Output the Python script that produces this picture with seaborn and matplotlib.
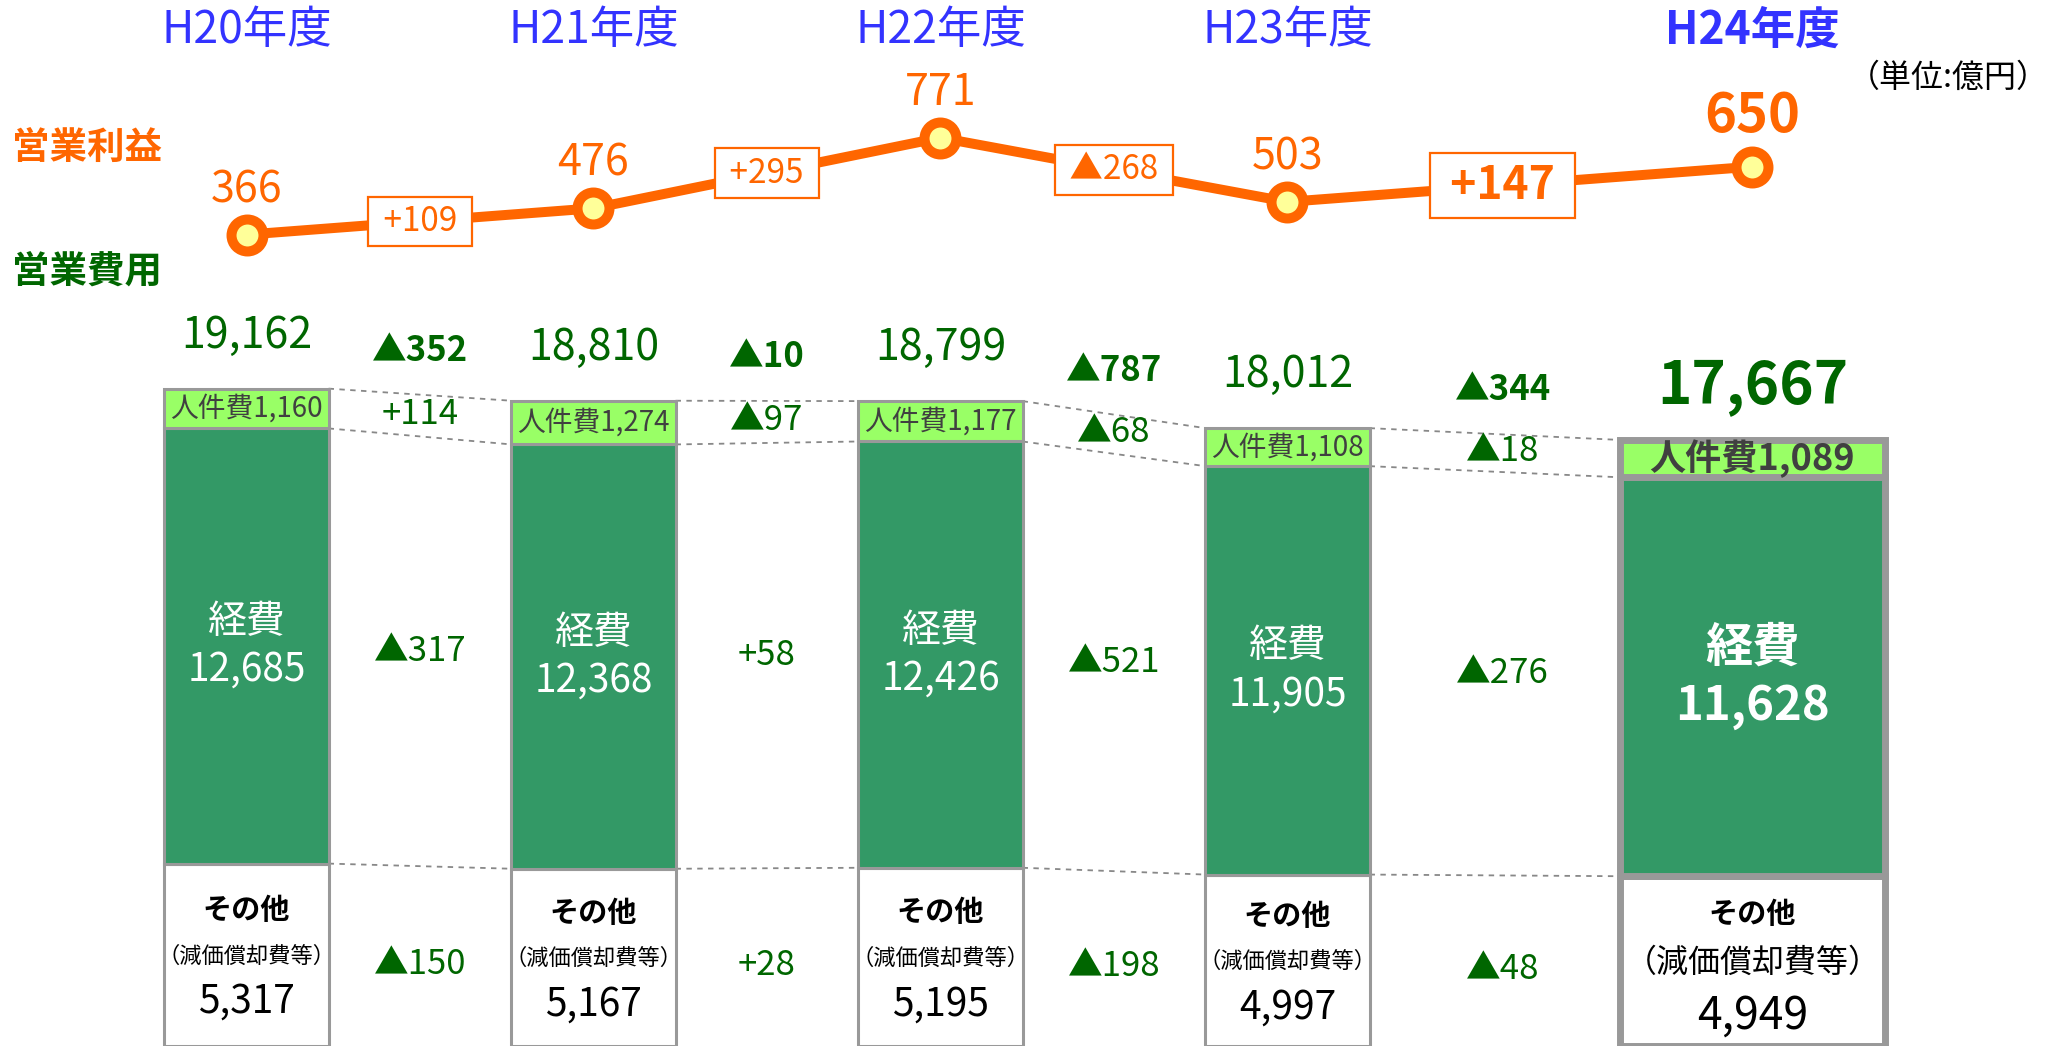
import numpy as np
import matplotlib
matplotlib.use("Agg")
import matplotlib.pyplot as plt
import seaborn as sns

# 年度と各値 (単位:億円)
years = ["H20年度", "H21年度", "H22年度", "H23年度", "H24年度"]
profit = [366, 476, 771, 503, 650]
profit_diff = ["+109", "+295", "▲268", "+147"]

personnel = [1160, 1274, 1177, 1108, 1089]
expenses = [12685, 12368, 12426, 11905, 11628]
other = [5317, 5167, 5195, 4997, 4949]
totals = [19162, 18810, 18799, 18012, 17667]

total_diff = ["▲352", "▲10", "▲787", "▲344"]
personnel_diff = ["+114", "▲97", "▲68", "▲18"]
expenses_diff = ["▲317", "+58", "▲521", "▲276"]
other_diff = ["▲150", "+28", "▲198", "▲48"]

sns.set_theme(style="white")
plt.rcParams['font.family'] = ['Noto Sans CJK JP', 'DejaVu Sans']

ORANGE = "#FF6600"
DGREEN = "#006600"
BLUE = "#3333FF"
LIGHT = "#99FF66"
MID = "#339966"
EDGE = "#999999"

# レイアウト
bar_x = np.array([0, 1, 2, 3, 4.34])
gap_x = np.array([0.5, 1.5, 2.5, 3.62])
bar_w = np.array([0.473] * 4 + [0.762])
edge_lw = [2.2] * 4 + [5.0]

fig = plt.figure(figsize=(20.54, 10.46), dpi=100)
ax = fig.add_axes([0, 0, 1, 1])
ax.set_xlim(-0.7104, 5.209)
ax.set_ylim(0, 30490)
ax.axis('off')

other = np.array(other)
expenses = np.array(expenses)
personnel = np.array(personnel)
lvl1 = other
lvl2 = other + expenses
lvl3 = other + expenses + personnel

# 積み上げ棒
ax.bar(bar_x, other, width=bar_w, color="white", edgecolor=EDGE, linewidth=edge_lw, zorder=2)
ax.bar(bar_x, expenses, bottom=lvl1, width=bar_w, color=MID, edgecolor=EDGE, linewidth=edge_lw, zorder=2)
ax.bar(bar_x, personnel, bottom=lvl2, width=bar_w, color=LIGHT, edgecolor=EDGE, linewidth=edge_lw, zorder=2)

# 破線の接続線
for i in range(4):
    xa = bar_x[i] + bar_w[i] / 2
    xb = bar_x[i + 1] - bar_w[i + 1] / 2
    for lv in (lvl1, lvl2, lvl3):
        ax.plot([xa, xb], [lv[i], lv[i + 1]], ls=(0, (3, 3)), color="#888888", lw=1.3, zorder=1)

# 棒の中のラベル
for i in range(5):
    big = i == 4
    ax.text(bar_x[i], lvl2[i] + personnel[i] / 2, f"人件費{personnel[i]:,}",
            ha="center", va="center", color="#404040",
            fontsize=26 if big else 20, fontweight="bold" if big else "normal", zorder=3)
    ax.text(bar_x[i], lvl1[i] + expenses[i] / 2, f"経費\n{expenses[i]:,}",
            ha="center", va="center", color="white", linespacing=1.25,
            fontsize=34 if big else 28, fontweight="bold" if big else "normal", zorder=3)
    mid = other[i] / 2
    offs = (34, -1, -39) if big else (32, -1, -34)
    ax.annotate("その他", (bar_x[i], mid), xytext=(0, offs[0]), textcoords="offset points",
                ha="center", va="center", fontsize=21, fontweight="bold", color="black")
    ax.annotate("（減価償却費等）", (bar_x[i], mid), xytext=(0, offs[1]), textcoords="offset points",
                ha="center", va="center", fontsize=23 if big else 16, color="black")
    ax.annotate(f"{other[i]:,}", (bar_x[i], mid), xytext=(0, offs[2]), textcoords="offset points",
                ha="center", va="center", fontsize=32 if big else 28, color="black")
    ax.annotate(f"{totals[i]:,}", (bar_x[i], lvl3[i]), xytext=(0, 38), textcoords="offset points",
                ha="center", va="center", color=DGREEN,
                fontsize=42 if big else 31, fontweight="bold" if big else "normal")

# 増減ラベル
for i in range(4):
    ax.annotate(total_diff[i], (gap_x[i], (lvl3[i] + lvl3[i + 1]) / 2), xytext=(0, 32),
                textcoords="offset points", ha="center", va="center",
                fontsize=25, fontweight="bold", color=DGREEN)
    pm = (lvl2[i] + personnel[i] / 2 + lvl2[i + 1] + personnel[i + 1] / 2) / 2
    ax.annotate(personnel_diff[i], (gap_x[i], pm), xytext=(0, 1), textcoords="offset points",
                ha="center", va="center", fontsize=25, color=DGREEN)
    em = (lvl1[i] + expenses[i] / 2 + lvl1[i + 1] + expenses[i + 1] / 2) / 2
    ax.text(gap_x[i], em, expenses_diff[i], ha="center", va="center", fontsize=25, color=DGREEN)
    om = (other[i] / 2 + other[i + 1] / 2) / 2
    ax.annotate(other_diff[i], (gap_x[i], om), xytext=(0, -6), textcoords="offset points",
                ha="center", va="center", fontsize=25, color=DGREEN)

# 年度ラベル
for i, y in enumerate(years):
    ax.text(bar_x[i], 0.971, y, transform=ax.get_xaxis_transform(), ha="center", va="center",
            color=BLUE, fontsize=32, fontweight="bold" if i == 4 else "normal")

# 営業利益の折れ線
ax2 = ax.twinx()
ax2.set_ylim(-3024.6, 1346.5)
ax2.axis('off')
sns.lineplot(x=bar_x, y=profit, ax=ax2, color=ORANGE, lw=7.2, marker="o", ms=23,
             mfc="#FFFF99", mec=ORANGE, mew=7.2, zorder=3)
for i, v in enumerate(profit):
    big = i == 4
    ax2.annotate(f"{v}", (bar_x[i], v), xytext=(0, 36 if big else 32), textcoords="offset points",
                 ha="center", va="center", color=ORANGE,
                 fontsize=39 if big else 31, fontweight="bold" if big else "normal")
gap_y = np.interp(gap_x, bar_x, profit)
for i, t in enumerate(profit_diff):
    big = i == 3
    ax2.text(gap_x[i], gap_y[i], f" {t} ", ha="center", va="center", color=ORANGE,
             fontsize=32 if big else 24, fontweight="bold" if big else "normal", zorder=5,
             bbox=dict(boxstyle="square,pad=0.22", fc="white", ec=ORANGE, lw=1.6))

# 左側の見出しと単位
fig.text(12 / 2054, 1 - 147 / 1046, "営業利益", ha="left", va="center", color=ORANGE,
         fontsize=27, fontweight="bold")
fig.text(12 / 2054, 1 - 271 / 1046, "営業費用", ha="left", va="center", color=DGREEN,
         fontsize=27, fontweight="bold")
fig.text(1948 / 2054, 1 - 78 / 1046, "（単位:億円）", ha="center", va="center", color="black",
         fontsize=23)

fig.savefig("out.png", dpi=100)
plt.close(fig)
